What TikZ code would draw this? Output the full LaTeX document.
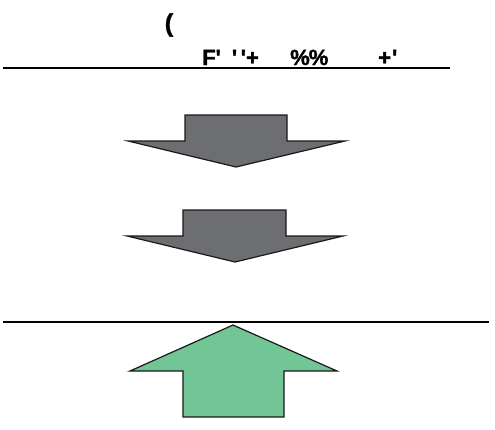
\documentclass[tikz,border=0pt]{standalone}
\usepackage{fontspec}
\setmainfont{Liberation Sans}[BoldFeatures={FakeBold=1.5}]
\usepackage{tikz}

\definecolor{arrowgray}{RGB}{109,110,113}
\definecolor{arrowgreen}{RGB}{114,197,148}

\begin{document}
\begin{tikzpicture}[x=1pt,y=-1pt,
  lbl/.style={inner sep=0pt,anchor=base west,font=\fontsize{22}{22}\selectfont\bfseries},
  arrowshape/.style={draw=black!90,line width=1.2pt,line join=miter}]
\useasboundingbox (0,0) rectangle (495,429);

% Labels
\node[inner sep=0pt,font=\fontsize{25}{25}\selectfont\bfseries] (paren) at (169,25) {(};
\node[lbl] (grpa) at (202,65) {F\textquotesingle\hspace{11pt}\textquotesingle\,\textquotesingle+};
\node[lbl] (grpb) at (290,65) {\%\kern-1pt\%};
\node[lbl] (grpc) at (378,65) {+\kern1pt\textquotesingle};

% Upper line
\draw[line width=2pt] (3,68) -- (450,68);

% Down arrows
\draw[arrowshape,fill=arrowgray] (185,115) -- (287,115) -- (287,141) -- (345,141)
  -- (236,167) -- (128,141) -- (185,141) -- cycle;
\draw[arrowshape,fill=arrowgray] (183,210) -- (286,210) -- (286,236) -- (343,236)
  -- (235,262) -- (127,236) -- (183,236) -- cycle;

% Lower line
\draw[line width=2pt] (3,322) -- (489,322);

% Up arrow
\draw[arrowshape,fill=arrowgreen] (233,325) -- (337,371) -- (284,371) -- (284,417)
  -- (183,417) -- (183,371) -- (130,371) -- cycle;

\end{tikzpicture}
\end{document}
